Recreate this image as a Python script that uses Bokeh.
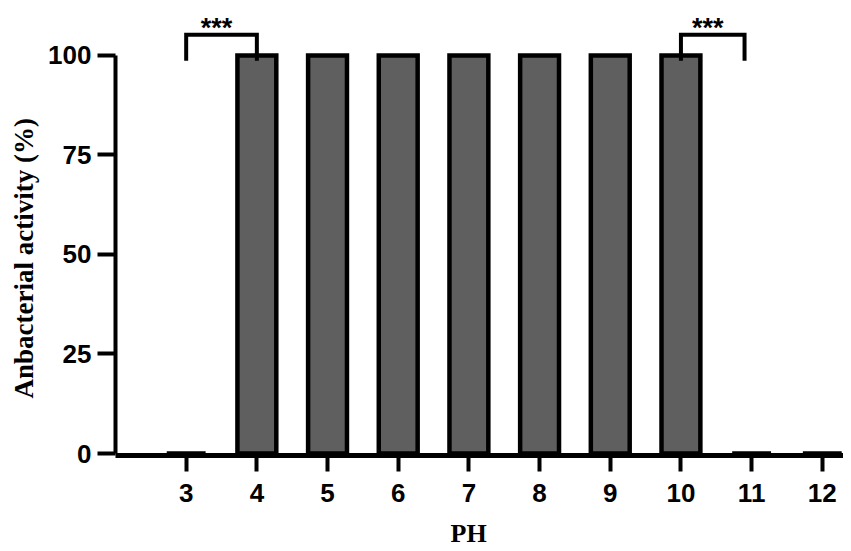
from bokeh.plotting import figure
from bokeh.models import Range1d, FixedTicker, ColumnDataSource, Title
from bokeh.embed import file_html
from bokeh.resources import INLINE
from bokeh.core.properties import value

# ---- data ----
ph = [3, 4, 5, 6, 7, 8, 9, 10, 11, 12]
activity = [0, 100, 100, 100, 100, 100, 100, 100, 0, 0]
y_ticks = [0, 25, 50, 75, 100]
comp_start = [3, 10]
comp_end = [4, 10.9]
sig_labels = ["***", "***"]

# ---- styling constants ----
BAR_FILL = "#5f5f5f"
SANS = "Liberation Sans"
SERIF = "Liberation Serif"
bracket_top = 105.2
bracket_tip = 98.7
star_y = 106.8

p = figure(width=843, height=549,
           x_range=Range1d(2, 12.3), y_range=Range1d(-0.5, 111.8),
           output_backend="svg", toolbar_location=None,
           min_border_left=115, min_border_right=0, min_border_top=8,
           min_border_bottom=94)
p.xgrid.visible = False
p.ygrid.visible = False
p.outline_line_color = None
p.background_fill_color = "white"
p.border_fill_color = "white"

src = ColumnDataSource(dict(x=ph, top=activity))
p.vbar(x="x", top="top", bottom=0, width=0.55, source=src,
       fill_color=BAR_FILL, line_color="black", line_width=4.5,
       line_join="miter")

# significance brackets
xs, ys = [], []
for a, b in zip(comp_start, comp_end):
    xs.append([a, a, b, b])
    ys.append([bracket_tip, bracket_top, bracket_top, bracket_tip])
p.multi_line(xs=xs, ys=ys, line_color="black", line_width=4,
             line_join="miter", line_cap="butt")
star_src = ColumnDataSource(dict(x=[(a + b) / 2 for a, b in zip(comp_start, comp_end)],
                                 y=[star_y] * len(sig_labels), t=sig_labels))
p.text(x="x", y="y", text="t", source=star_src, text_align="center",
       text_baseline="alphabetic", text_font=value(SANS), x_offset=-5,
       text_font_style="bold", text_font_size="27px", text_color="black")

# axes
for ax in (p.xaxis[0], p.yaxis[0]):
    ax.axis_line_color = "black"
    ax.major_tick_line_color = "black"
    ax.major_tick_line_width = 4
    ax.major_tick_in = 0
    ax.minor_tick_line_color = None
    ax.major_label_text_font = SANS
    ax.major_label_text_font_style = "bold"
    ax.major_label_text_font_size = "26px"
    ax.major_label_text_color = "black"

p.xaxis.ticker = FixedTicker(ticks=ph)
p.xaxis.axis_line_width = 5
p.xaxis.major_tick_out = 16
p.xaxis.major_label_standoff = 12
# blank spacer label to push the "PH" title down
p.xaxis.axis_label = " "
p.xaxis.axis_label_text_font_size = "1px"
p.xaxis.axis_label_standoff = 8

p.yaxis.ticker = FixedTicker(ticks=y_ticks)
p.yaxis.bounds = (y_ticks[0], y_ticks[-1])
p.yaxis.axis_line_width = 4
p.yaxis.major_tick_out = 18
p.yaxis.major_label_standoff = 6

# axis titles
p.add_layout(Title(text="PH", align="left", offset=335, standoff=0,
                   text_font=SERIF, text_font_style="bold",
                   text_font_size="26px", text_color="black"), "below")
p.add_layout(Title(text="Anbacterial activity (%)", align="left", offset=57,
                   standoff=13, text_font=SERIF, text_font_style="bold",
                   text_font_size="27px", text_color="black"), "left")

open("out.html", "w").write(file_html(p, INLINE))
